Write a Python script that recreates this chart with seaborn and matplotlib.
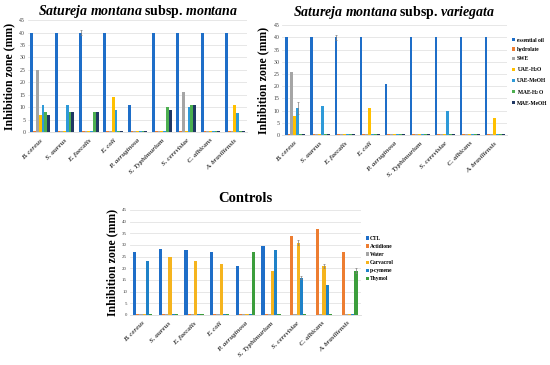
import matplotlib
matplotlib.use('Agg')
import matplotlib.pyplot as plt
import seaborn as sns
import pandas as pd
import numpy as np

# microorganisms tested
strains = ['B. cereus', 'S. aureus', 'E. faecalis', 'E. coli', 'P. aeruginosa',
           'S. Typhimurium', 'S. cerevisiae', 'C. albicans', 'A. brasiliensis']

# extracts
extracts = ['essential oil', 'hydrolate', 'SWE', 'UAE-H$_2$O', 'UAE-MeOH', 'MAE-H$_2$O', 'MAE-MeOH']
extract_colors = ['#1E6EC8', '#ED7D31', '#A5A5A5', '#FFC000', '#2E9AD8', '#4CAF50', '#203864']

# subsp. montana (0.5 = no inhibition stub)
montana_eo = [40, 40, 40, 40, 11, 40, 40, 40, 40]
montana_hyd = [0.5, 0.5, 0.5, 0.5, 0.5, 0.5, 0.5, 0.5, 0.5]
montana_swe = [25, 0.5, 0.5, 0.5, 0.5, 0.5, 16, 0.5, 0.5]
montana_uae_h2o = [7, 0.5, 0.5, 14, 0.5, 0.5, 0.5, 0.5, 11]
montana_uae_meoh = [11, 11, 0.5, 9, 0.5, 0.5, 10, 0.5, 7.5]
montana_mae_h2o = [8, 8, 8, 0.5, 0.5, 10, 11, 0.5, 0.5]
montana_mae_meoh = [7, 8, 8, 0.5, 0.5, 9, 11, 0.5, 0.5]
montana_err_eo = [0, 0, 1, 0, 0, 0, 0, 0, 0]

# subsp. variegata
variegata_eo = [40, 40, 40, 40, 21, 40, 40, 40, 40]
variegata_hyd = [0.5, 0.5, 0.5, 0.5, 0.5, 0.5, 0.5, 0.5, 0.5]
variegata_swe = [26, 0.5, 0.5, 0.5, 0.5, 0.5, 0.5, 0.5, 0.5]
variegata_uae_h2o = [8, 0.5, 0.5, 11, 0.5, 0.5, 0.5, 0.5, 7]
variegata_uae_meoh = [11, 12, 0.5, 0.5, 0.5, 0.5, 10, 0.5, 0.5]
variegata_mae_h2o = [0.5, 0.5, 0.5, 0.5, 0.5, 0.5, 0.5, 0.5, 0.5]
variegata_mae_meoh = [0.5, 0.5, 0.5, 0.5, 0.5, 0.5, 0.5, 0.5, 0.5]
variegata_err_eo = [0, 0, 1, 0, 0, 0, 0, 0, 0]
variegata_err_uae_meoh = [2.5, 0, 0, 0, 0, 0, 0, 0, 0]

# controls
controls = ['CTL', 'Actidione', 'Water', 'Carvacrol', 'p-cymene', 'Thymol']
control_colors = ['#1E6EC8', '#ED7D31', '#A5A5A5', '#F5B41E', '#1F82C8', '#3C9E3C']
ctl = [27, 28.3, 28, 27, 21, 29.5, 0, 0, 0]
actidione = [0.5, 0.5, 0.5, 0.5, 0.5, 0.5, 34, 37, 27]
water = [0.5, 0.5, 0.5, 0.5, 0.5, 0.5, 0.5, 0.5, 0.5]
carvacrol = [0.5, 25, 23, 22, 0.5, 19, 31, 21, 0.5]
pcymene = [23, 0.5, 0.5, 0.5, 0.5, 28, 16, 13, 0.5]
thymol = [0.5, 0.5, 0.5, 0.5, 27, 0.5, 0.5, 0.5, 19]
err_carvacrol = [0, 0, 0, 0, 0, 0, 1, 0.8, 0]
err_pcymene = [0, 0, 0, 0, 0, 0, 0.8, 0, 0]
err_thymol = [0, 0, 0, 0, 0, 0, 0, 0, 1]

plt.rcParams['font.family'] = ['Liberation Serif', 'DejaVu Serif']
plt.rcParams['mathtext.fontset'] = 'custom'
plt.rcParams['mathtext.it'] = 'Liberation Serif:italic:bold'
plt.rcParams['mathtext.rm'] = 'Liberation Serif:bold'
plt.rcParams['mathtext.bf'] = 'Liberation Serif:bold'


def long_table(series, names):
    rows = []
    for name, vals in zip(names, series):
        for s, v in zip(strains, vals):
            rows.append({'strain': s, 'group': name, 'value': v})
    return pd.DataFrame(rows)


def draw(ax, df, names, colors, width, errs):
    sns.barplot(data=df, x='strain', y='value', hue='group', hue_order=names,
                order=strains, palette=colors, width=width, ax=ax,
                saturation=1, errorbar=None, legend=True, linewidth=0)
    # error bars on top of selected bars
    for k, err in errs.items():
        cont = ax.containers[k]
        for bar, e in zip(cont, err):
            if e > 0:
                ax.errorbar(bar.get_x() + bar.get_width() / 2, bar.get_height(), yerr=e,
                            color='#7F7F7F', lw=0.5, capsize=0.8, capthick=0.5)
    ax.set_xlim(-0.5, len(strains) - 0.5)
    ax.set_ylim(0, 45)
    ax.set_yticks(range(0, 46, 5))
    ax.grid(axis='y', color='#E3E3E3', lw=0.6)
    ax.set_axisbelow(True)
    for sp in ['top', 'right', 'left']:
        ax.spines[sp].set_visible(False)
    ax.spines['bottom'].set_color('#D9D9D9')
    ax.spines['bottom'].set_linewidth(0.6)
    ax.tick_params(axis='both', length=0, labelsize=4.2, pad=2, colors='#404040')
    ax.set_xticks(range(len(strains)))
    ax.set_xticklabels(strains, rotation=45, ha='right', rotation_mode='anchor',
                       fontstyle='italic', fontweight='bold', fontsize=5)
    ax.tick_params(axis='x', pad=4)
    ax.set_xlabel('')
    ax.set_ylabel('Inhibition zone (mm)', fontsize=8.5, fontweight='bold', labelpad=3)


fig = plt.figure(figsize=(5.5, 3.65), dpi=100)

ax1 = fig.add_axes([0.051, 0.638, 0.398, 0.307])
df1 = long_table([montana_eo, montana_hyd, montana_swe, montana_uae_h2o,
                  montana_uae_meoh, montana_mae_h2o, montana_mae_meoh], extracts)
draw(ax1, df1, extracts, extract_colors, 0.8, {0: montana_err_eo})
ax1.get_legend().remove()
ax1.set_title(r'$Satureja\ montana$ subsp. $montana$', fontsize=10, fontweight='bold', pad=3)

ax2 = fig.add_axes([0.513, 0.630, 0.409, 0.301])
df2 = long_table([variegata_eo, variegata_hyd, variegata_swe, variegata_uae_h2o,
                  variegata_uae_meoh, variegata_mae_h2o, variegata_mae_meoh], extracts)
draw(ax2, df2, extracts, extract_colors, 0.8, {0: variegata_err_eo, 4: variegata_err_uae_meoh})
ax2.set_title(r'$Satureja\ montana$ subsp. $variegata$', fontsize=10, fontweight='bold', pad=6.5)
ax2.legend(loc='upper left', bbox_to_anchor=(1.0, 0.93), frameon=False,
           handlelength=0.5, handleheight=0.5, handletextpad=0.3, labelspacing=0.75,
           prop={'weight': 'bold', 'size': 4})

ax3 = fig.add_axes([0.236, 0.137, 0.42, 0.288])
df3 = long_table([ctl, actidione, water, carvacrol, pcymene, thymol], controls)
draw(ax3, df3, controls, control_colors, 0.75, {3: err_carvacrol, 4: err_pcymene, 5: err_thymol})
ax3.set_title('Controls', fontsize=10.5, fontweight='bold', pad=6)
ax3.legend(loc='upper left', bbox_to_anchor=(1.0, 0.8), frameon=False,
           handlelength=0.5, handleheight=0.5, handletextpad=0.3, labelspacing=0.55,
           prop={'weight': 'bold', 'size': 4})
ax3.tick_params(axis='y', labelsize=3.5)

fig.savefig('out.png', dpi=100, facecolor='white')
